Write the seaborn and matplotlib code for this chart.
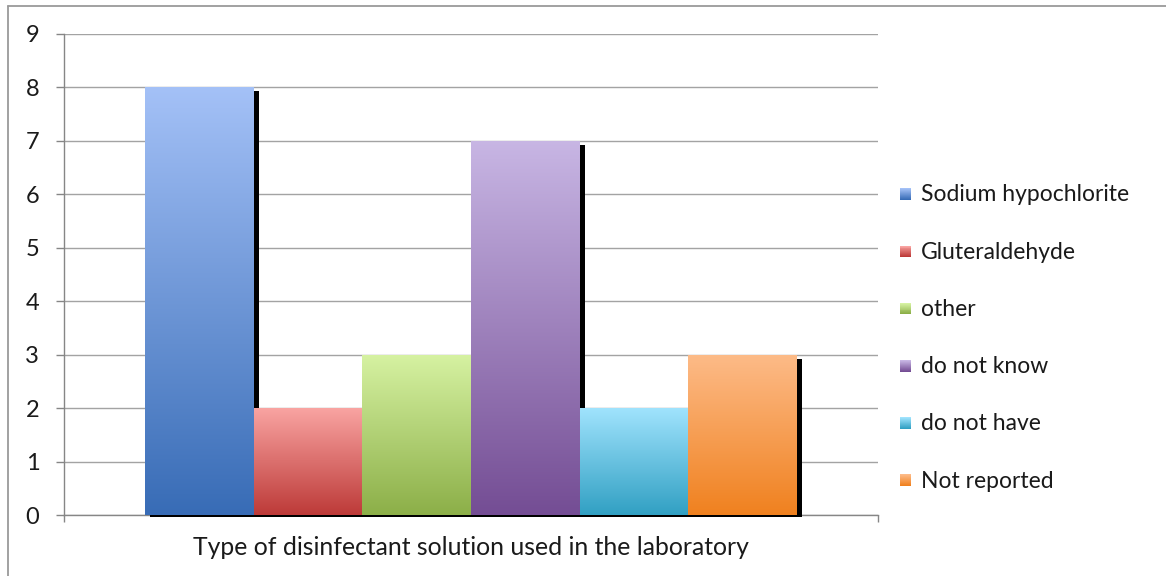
import numpy as np
import pandas as pd
import matplotlib
matplotlib.use("Agg")
import matplotlib.pyplot as plt
import matplotlib.transforms as mtransforms
from matplotlib.colors import LinearSegmentedColormap
from matplotlib.lines import Line2D
from matplotlib.patches import Patch, Rectangle
from matplotlib.legend_handler import HandlerBase
import seaborn as sns

# ---- data -------------------------------------------------------------
category = "Type of disinfectant solution used in the laboratory"
series = ["Sodium hypochlorite", "Gluteraldehyde", "other",
          "do not know", "do not have", "Not reported"]
counts = [8, 2, 3, 7, 2, 3]
y_ticks = list(range(0, 10))

# gradient end colours for each series (top -> bottom)
top_colors = ["#A4C1F7", "#F9A4A2", "#D6F2A2", "#C8B6E4", "#A0E3FD", "#FDBB88"]
bottom_colors = ["#386CB6", "#BD3A38", "#8CAF48", "#744D94", "#31A0C3", "#F0811F"]

# ---- styling ----------------------------------------------------------
sns.set_theme(style="white")
plt.rcParams["font.family"] = ["Lato", "DejaVu Sans"]
TEXT = "#1a1a1a"
AXIS_GRAY = "#868686"
GRID_GRAY = "#a3a3a3"
FS_TICK = 17
FS_LEGEND = 16.5
FS_CAT = 17.8

W, H = 1166, 576
fig = plt.figure(figsize=(W / 100, H / 100), dpi=100)
ax = fig.add_axes([64 / W, 61 / H, (878 - 64) / W, (515 - 34) / H])

df = pd.DataFrame({"category": [category] * len(series),
                   "series": series,
                   "count": counts})

sns.barplot(data=df, x="category", y="count", hue="series",
            hue_order=series, palette=bottom_colors, saturation=1,
            width=0.8, dodge=True, legend=False, ax=ax)

ax.set_xlim(-0.5, 0.5)
ax.set_ylim(0, 9)

# ---- gradient fill + drop shadow for every bar -----------------------
bars = sorted([p for p in ax.patches if isinstance(p, Rectangle)],
              key=lambda p: p.get_x())
shadow_tf = ax.transData + mtransforms.ScaledTranslation(
    5 / 100, -4 / 100, fig.dpi_scale_trans)
# shadows may spill a couple of pixels below the value axis
shadow_clip = mtransforms.TransformedBbox(
    mtransforms.Bbox.from_extents(0, 0, 1.05, 1.05),
    ax.transAxes + mtransforms.ScaledTranslation(0, -2 / 100, fig.dpi_scale_trans))
grad = np.linspace(0, 1, 256).reshape(-1, 1)

for i, bar in enumerate(bars):
    x0, w, h = bar.get_x(), bar.get_width(), bar.get_height()
    z = 3 + 2 * i
    shadow = Rectangle((x0, 0), w, h, transform=shadow_tf,
                       facecolor="black", edgecolor="none", zorder=z)
    ax.add_patch(shadow)
    shadow.set_clip_box(shadow_clip)
    bar.set_facecolor("none")
    bar.set_edgecolor("none")
    bar.set_zorder(z + 1)
    cmap = LinearSegmentedColormap.from_list(
        f"g{i}", [bottom_colors[i], top_colors[i]])
    img = ax.imshow(grad, cmap=cmap, origin="lower", aspect="auto",
                    extent=[x0, x0 + w, 0, h], zorder=z + 1,
                    interpolation="bilinear")
    img.set_clip_path(bar)

ax.set_xlim(-0.5, 0.5)
ax.set_ylim(0, 9)

# ---- axes, grid, ticks -----------------------------------------------
ax.set_axisbelow(True)
ax.yaxis.grid(True, color=GRID_GRAY, linewidth=1)
ax.xaxis.grid(False)
for side in ("top", "right"):
    ax.spines[side].set_visible(False)
for side in ("left", "bottom"):
    ax.spines[side].set_color(AXIS_GRAY)
    ax.spines[side].set_linewidth(1)

ax.set_yticks(y_ticks)
ax.set_yticklabels([str(t) for t in y_ticks], fontsize=FS_TICK, color=TEXT)
ax.tick_params(axis="y", which="major", direction="out", length=5.8,
               width=1, color=AXIS_GRAY, pad=12, left=True)

ax.set_xticks([0])
ax.set_xticklabels([category], fontsize=FS_CAT, color=TEXT)
ax.set_xticks([-0.5, 0.5], minor=True)
ax.tick_params(axis="x", which="major", length=0, pad=15)
ax.tick_params(axis="x", which="minor", direction="out", length=5,
               width=1, color=AXIS_GRAY, bottom=True)
ax.set_xlabel("")
ax.set_ylabel("")


# ---- legend with gradient swatches -----------------------------------
class GradientSwatch(HandlerBase):
    def __init__(self, top, bottom, steps=12):
        super().__init__()
        self.cmap = LinearSegmentedColormap.from_list("sw", [bottom, top])
        self.steps = steps

    def create_artists(self, legend, orig_handle, xdescent, ydescent,
                       width, height, fontsize, trans):
        side = min(width, height)
        arts = []
        for k in range(self.steps):
            arts.append(Rectangle(
                (-xdescent, -ydescent + side * k / self.steps),
                side, side / self.steps + 0.05,
                facecolor=self.cmap(k / (self.steps - 1)),
                edgecolor="none", transform=trans))
        return arts


handles = [Patch(facecolor=c) for c in bottom_colors]
hmap = {h: GradientSwatch(t, b)
        for h, t, b in zip(handles, top_colors, bottom_colors)}
fig.legend(handles, series, handler_map=hmap,
           loc="center left", bbox_to_anchor=(900 / W, 1 - 338 / H),
           bbox_transform=fig.transFigure, frameon=False,
           fontsize=FS_LEGEND, labelcolor=TEXT, handlelength=0.5,
           handleheight=0.5, handletextpad=0.42, labelspacing=1.58,
           borderpad=0, borderaxespad=0)

# ---- outer chart border (left and top edges) -------------------------
fig.add_artist(Line2D([8 / W, 8 / W], [0, 1 - 6 / H],
                      transform=fig.transFigure, color="#9a9a9a", lw=1.3))
fig.add_artist(Line2D([8 / W, 1], [1 - 6 / H, 1 - 6 / H],
                      transform=fig.transFigure, color="#9a9a9a", lw=1.3))

fig.savefig("out.png", dpi=100, facecolor="white")
